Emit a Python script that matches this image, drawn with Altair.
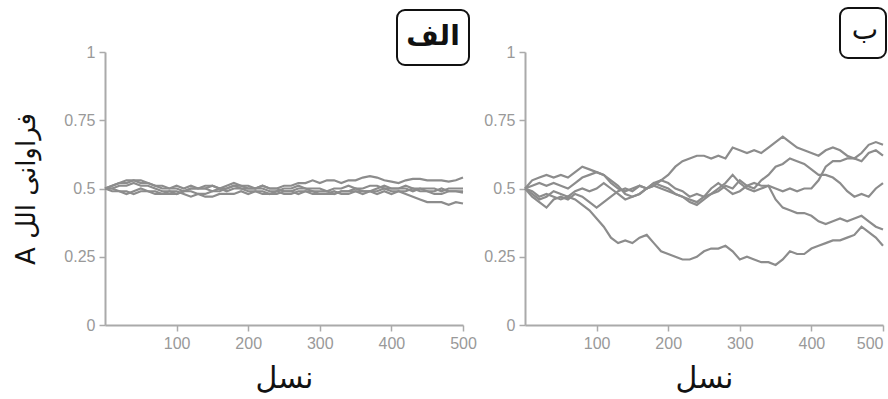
import altair as alt
import pandas as pd

generations = list(range(0, 501, 10))

# Panel A (الف) - five runs, small drift
a_run1 = [0.50, 0.51, 0.52, 0.52, 0.53, 0.52, 0.52, 0.51, 0.50, 0.50,
          0.51, 0.50, 0.51, 0.50, 0.50, 0.51, 0.50, 0.50, 0.51, 0.51,
          0.51, 0.50, 0.51, 0.50, 0.50, 0.51, 0.51, 0.52, 0.52, 0.53,
          0.52, 0.53, 0.53, 0.52, 0.53, 0.53, 0.54, 0.545, 0.54, 0.53,
          0.525, 0.52, 0.53, 0.535, 0.535, 0.53, 0.53, 0.53, 0.525, 0.53,
          0.54]
a_run2 = [0.50, 0.50, 0.49, 0.49, 0.48, 0.49, 0.49, 0.48, 0.48, 0.49,
          0.49, 0.48, 0.47, 0.48, 0.47, 0.47, 0.48, 0.48, 0.48, 0.49,
          0.48, 0.49, 0.49, 0.48, 0.49, 0.48, 0.48, 0.49, 0.49, 0.48,
          0.48, 0.48, 0.49, 0.48, 0.48, 0.49, 0.49, 0.49, 0.48, 0.49,
          0.48, 0.49, 0.48, 0.47, 0.46, 0.45, 0.45, 0.45, 0.44, 0.45,
          0.445]
a_run3 = [0.50, 0.51, 0.52, 0.53, 0.53, 0.53, 0.52, 0.51, 0.51, 0.50,
          0.50, 0.49, 0.50, 0.50, 0.51, 0.51, 0.50, 0.51, 0.52, 0.51,
          0.50, 0.50, 0.51, 0.50, 0.50, 0.49, 0.49, 0.50, 0.50, 0.49,
          0.49, 0.49, 0.48, 0.49, 0.49, 0.50, 0.49, 0.49, 0.50, 0.51,
          0.50, 0.50, 0.50, 0.49, 0.50, 0.50, 0.50, 0.49, 0.50, 0.50,
          0.50]
a_run4 = [0.50, 0.50, 0.51, 0.51, 0.52, 0.51, 0.51, 0.50, 0.49, 0.49,
          0.48, 0.49, 0.50, 0.50, 0.50, 0.49, 0.49, 0.50, 0.51, 0.50,
          0.49, 0.49, 0.48, 0.48, 0.48, 0.49, 0.49, 0.48, 0.49, 0.49,
          0.48, 0.48, 0.48, 0.49, 0.49, 0.49, 0.48, 0.49, 0.49, 0.50,
          0.49, 0.49, 0.49, 0.50, 0.49, 0.49, 0.48, 0.48, 0.49, 0.49,
          0.49]
a_run5 = [0.50, 0.49, 0.49, 0.48, 0.49, 0.50, 0.49, 0.49, 0.48, 0.48,
          0.48, 0.49, 0.49, 0.48, 0.48, 0.49, 0.50, 0.49, 0.50, 0.50,
          0.50, 0.50, 0.50, 0.49, 0.49, 0.50, 0.50, 0.51, 0.50, 0.50,
          0.50, 0.49, 0.50, 0.50, 0.51, 0.50, 0.50, 0.51, 0.51, 0.50,
          0.50, 0.50, 0.51, 0.50, 0.50, 0.49, 0.49, 0.50, 0.49, 0.49,
          0.485]

# Panel B (ب) - five runs, larger drift
b_run1 = [0.50, 0.53, 0.54, 0.55, 0.54, 0.55, 0.54, 0.56, 0.58, 0.57,
          0.56, 0.55, 0.52, 0.50, 0.49, 0.50, 0.51, 0.50, 0.52, 0.53,
          0.55, 0.58, 0.60, 0.61, 0.62, 0.62, 0.61, 0.62, 0.61, 0.65,
          0.64, 0.63, 0.64, 0.63, 0.65, 0.67, 0.69, 0.67, 0.65, 0.64,
          0.63, 0.62, 0.64, 0.65, 0.64, 0.62, 0.61, 0.63, 0.66, 0.67,
          0.66]
b_run2 = [0.50, 0.51, 0.52, 0.51, 0.52, 0.51, 0.50, 0.52, 0.54, 0.55,
          0.56, 0.55, 0.53, 0.51, 0.48, 0.47, 0.48, 0.50, 0.51, 0.50,
          0.49, 0.48, 0.47, 0.46, 0.45, 0.47, 0.50, 0.52, 0.50, 0.48,
          0.49, 0.51, 0.50, 0.53, 0.55, 0.58, 0.59, 0.61, 0.60, 0.59,
          0.57, 0.55, 0.55, 0.54, 0.52, 0.49, 0.47, 0.48, 0.47, 0.50,
          0.52]
b_run3 = [0.50, 0.48, 0.46, 0.47, 0.49, 0.48, 0.47, 0.49, 0.50, 0.49,
          0.50, 0.52, 0.50, 0.48, 0.46, 0.47, 0.48, 0.50, 0.51, 0.53,
          0.52, 0.50, 0.49, 0.47, 0.48, 0.47, 0.48, 0.50, 0.52, 0.55,
          0.52, 0.50, 0.49, 0.50, 0.51, 0.50, 0.49, 0.50, 0.49, 0.50,
          0.50, 0.53, 0.58, 0.60, 0.60, 0.61, 0.61, 0.60, 0.63, 0.64,
          0.62]
b_run4 = [0.50, 0.47, 0.45, 0.43, 0.46, 0.47, 0.46, 0.48, 0.47, 0.45,
          0.43, 0.45, 0.47, 0.49, 0.50, 0.49, 0.51, 0.50, 0.52, 0.51,
          0.50, 0.48, 0.47, 0.45, 0.44, 0.46, 0.48, 0.49, 0.51, 0.50,
          0.53, 0.51, 0.52, 0.51, 0.51, 0.46, 0.43, 0.42, 0.41, 0.41,
          0.40, 0.38, 0.37, 0.38, 0.39, 0.38, 0.39, 0.40, 0.38, 0.36,
          0.35]
b_run5 = [0.50, 0.49, 0.47, 0.48, 0.47, 0.46, 0.47, 0.46, 0.44, 0.42,
          0.39, 0.36, 0.32, 0.30, 0.31, 0.30, 0.32, 0.33, 0.30, 0.27,
          0.26, 0.25, 0.24, 0.24, 0.25, 0.27, 0.28, 0.28, 0.29, 0.27,
          0.24, 0.25, 0.24, 0.23, 0.23, 0.22, 0.24, 0.27, 0.26, 0.26,
          0.28, 0.29, 0.30, 0.31, 0.31, 0.32, 0.33, 0.36, 0.34, 0.32,
          0.29]

x_ticks = [100, 200, 300, 400, 500]
y_ticks = [0, 0.25, 0.5, 0.75, 1]
x_title = "نسل"
y_title = "\u2067فراوانی الل A\u2069"
label_a = ["الف"]
label_b = ["ب"]


def to_long(runs):
    rows = []
    for i, run in enumerate(runs):
        for g, v in zip(generations, run):
            rows.append({"gen": g, "freq": v, "run": f"r{i + 1}"})
    return pd.DataFrame(rows)


df_a = to_long([a_run1, a_run2, a_run3, a_run4, a_run5])
df_b = to_long([b_run1, b_run2, b_run3, b_run4, b_run5])

W, H = 358, 273
AX = dict(domainColor="#aaaaaa", tickColor="#aaaaaa", domainWidth=2, tickWidth=1.5,
          tickSize=6, labelColor="#999999", labelFont="Liberation Sans",
          labelFontSize=16, labelPadding=4, grid=False)


def panel(df, label, show_ytitle, box, text_pos, bold, flush):
    x_axis = alt.Axis(values=x_ticks, title=x_title, titleFont="DejaVu Sans",
                      titleFontSize=30, titleFontWeight="normal", titleColor="#111111",
                      titlePadding=12, labelFlush=flush, **AX)
    if show_ytitle:
        y_axis = alt.Axis(values=y_ticks, format=".2~f", title=y_title,
                          titleFont="DejaVu Sans", titleFontSize=26,
                          titleFontWeight="normal", titleColor="#111111",
                          titlePadding=24, **AX)
    else:
        y_axis = alt.Axis(values=y_ticks, format=".2~f", title=None, **AX)

    lines = alt.Chart(df).mark_line(color="#8c8c8c", strokeWidth=2.2).encode(
        x=alt.X("gen:Q", scale=alt.Scale(domain=[0, 500], nice=False), axis=x_axis),
        y=alt.Y("freq:Q", scale=alt.Scale(domain=[0, 1], nice=False), axis=y_axis),
        detail="run:N",
    )
    ldf = pd.DataFrame({"label": label})
    rect = alt.Chart(ldf).mark_rect(
        fill="white", stroke="#111111", strokeWidth=2, cornerRadius=8, clip=False
    ).encode(
        x=alt.value(box[0]), x2=alt.value(box[1]), y=alt.value(box[2]), y2=alt.value(box[3])
    )
    txt = alt.Chart(ldf).mark_text(
        font="DejaVu Sans", fontSize=28, fontWeight="bold" if bold else "normal",
        color="#111111", align="center", baseline="middle", clip=False
    ).encode(x=alt.value(text_pos[0]), y=alt.value(text_pos[1]), text="label:N")
    return alt.layer(lines, rect, txt).properties(width=W, height=H)


pa = panel(df_a, label_a, True, (292, 364, -42, 13), (328, -15), True, False)
pb = panel(df_b, label_b, False, (315, 361, -44, 6), (340, -21), False, True)

chart = alt.hconcat(pa, pb, spacing=62, bounds="flush").properties(
    padding={"left": 13, "top": 7, "right": 0, "bottom": 0}
).configure_view(stroke=None)

chart.save("out.html", embed_options={"renderer": "svg", "actions": False})
